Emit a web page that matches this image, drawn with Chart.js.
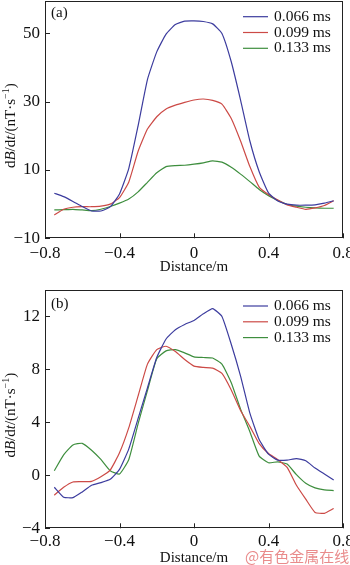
<!DOCTYPE html>
<html>
<head>
<meta charset="utf-8">
<script src="https://cdn.jsdelivr.net/npm/chart.js@4.4.1/dist/chart.umd.min.js"></script>
<style>
    body { margin: 0; background: #fff; }
    #wrap { position: relative; width: 350px; height: 565px; overflow: hidden; }
    canvas { position: absolute; left: 0; }
    #chartA { top: 0; }
    #chartB { top: 282px; }
    #mark {
        position: absolute; left: 245px; top: 547px;
        font: 15px "Noto Sans CJK SC", sans-serif; line-height: 18px;
        color: rgba(225, 100, 100, 0.75); white-space: nowrap;
    }
</style>
</head>
<body>
<div id="wrap">
    <canvas id="chartA" width="350" height="282"></canvas>
    <canvas id="chartB" width="350" height="283"></canvas>
    <div id="mark">@有色金属在线</div>
</div>
<script>
// distance along the profile, m
const distance = [-0.75, -0.7, -0.65, -0.6, -0.55, -0.5, -0.45, -0.4, -0.35, -0.3, -0.25, -0.2, -0.15, -0.1, -0.05,
    0, 0.05, 0.1, 0.15, 0.2, 0.25, 0.3, 0.35, 0.4, 0.45, 0.5, 0.55, 0.6, 0.65, 0.7, 0.75];

const seriesLabels = ["0.066 ms", "0.099 ms", "0.133 ms"];
const seriesColors = ["#3c3c9e", "#cc4a46", "#3e8e3e"];

// panel (a)
const a066 = [3.2, 2.2, 0.8, -0.7, -2.0, -2.0, -0.8, 3.0, 10.5, 23, 36.5, 44.6, 49.8, 52.6, 53.6,
    53.7, 53.5, 52.8, 50, 41.7, 30.5, 18.5, 9.5, 3.3, 0.9, 0.0, -0.3, -0.3, -0.2, 0.3, 1.0];
const a099 = [-3.2, -1.5, -0.9, -0.75, -0.75, -0.6, 0.0, 1.9, 6.5, 15.5, 22, 25.6, 27.9, 29, 29.8,
    30.5, 30.8, 30.4, 29.3, 25.1, 18.5, 11, 5.0, 2.8, 1.2, -0.2, -0.9, -1.5, -1.1, -0.4, 1.0];
const a133 = [-1.7, -1.6, -1.5, -1.7, -1.9, -1.5, -0.7, 0.3, 1.5, 3.6, 6.4, 9.2, 11.0, 11.3, 11.4,
    11.7, 12.1, 12.7, 12.3, 10.8, 8.8, 6.6, 4.3, 2.5, 1.1, -0.1, -0.6, -0.9, -1.1, -1.2, -1.2];

// panel (b)
const b066 = [-0.9, -1.65, -1.68, -1.25, -0.75, -0.55, -0.3, 0.45, 2.0, 4.3, 6.6, 8.9, 10.3, 11.0, 11.4,
    11.7, 12.2, 12.6, 12.0, 9.9, 7.5, 4.7, 2.7, 1.6, 1.15, 1.15, 1.27, 1.1, 0.55, 0.1, -0.35];
const b099 = [-1.5, -0.9, -0.5, -0.48, -0.45, -0.1, 0.4, 1.7, 3.6, 6.0, 8.4, 9.5, 9.75, 9.35, 8.75,
    8.25, 8.15, 8.1, 7.7, 6.45, 4.9, 3.7, 2.4, 1.65, 1.18, 0.6, -0.75, -1.8, -2.8, -2.87, -2.5];
const b133 = [0.35, 1.55, 2.3, 2.42, 1.9, 1.2, 0.35, 0.1, 1.2, 3.9, 6.4, 8.8, 9.4, 9.5, 9.25,
    8.95, 8.9, 8.86, 8.4, 7.0, 5.0, 3.3, 1.45, 0.95, 1.02, 0.85, 0.05, -0.6, -0.95, -1.1, -1.15];

const xTicks = [-0.8, -0.4, 0, 0.4, 0.8];
const yTicksA = [-10, 10, 30, 50];
const yTicksB = [-4, 0, 4, 8, 12];

const serif = "'Liberation Serif', 'DejaVu Serif', serif";
const sign = v => (v < 0 ? "\u2212" : "");
const xLabel = v => (v === 0 ? "0" : sign(v) + Math.abs(v).toFixed(1));
const yLabel = v => sign(v) + Math.abs(v);

function makeDatasets(list) {
    return list.map((vals, i) => ({
        label: seriesLabels[i],
        data: distance.map((d, j) => ({ x: d, y: vals[j] })),
        borderColor: seriesColors[i],
        borderWidth: 1.2,
        pointRadius: 0,
        tension: 0.15,
        fill: false,
    }));
}

// frame, inward ticks, legend, titles
const decor = {
    id: "decor",
    afterDraw(chart, args, o) {
        const { ctx, chartArea: a } = chart;
        const x = chart.scales.x, y = chart.scales.y;
        ctx.save();
        ctx.strokeStyle = "#222";
        ctx.lineWidth = 1;
        ctx.strokeRect(Math.round(a.left) + 0.5, Math.round(a.top) + 0.5,
            Math.round(a.width) - 1, Math.round(a.height) - 1);

        ctx.beginPath();
        x.ticks.forEach(t => {
            const px = Math.round(x.getPixelForValue(t.value)) + 0.5;
            ctx.moveTo(px, a.bottom);
            ctx.lineTo(px, a.bottom - 5);
        });
        y.ticks.forEach(t => {
            const py = Math.round(y.getPixelForValue(t.value)) + 0.5;
            ctx.moveTo(a.left, py);
            ctx.lineTo(a.left + 5, py);
        });
        ctx.stroke();

        ctx.fillStyle = "#111";
        ctx.textBaseline = "middle";
        ctx.font = "15px " + serif;
        ctx.textAlign = "left";
        ctx.fillText(o.panel, a.left + 6, a.top + o.panelDy);

        // legend
        ctx.font = "15.5px " + serif;
        chart.data.datasets.forEach((ds, i) => {
            const ly = o.legendY + i * 15.8;
            ctx.strokeStyle = ds.borderColor;
            ctx.lineWidth = 1.2;
            ctx.beginPath();
            ctx.moveTo(243, ly);
            ctx.lineTo(268, ly);
            ctx.stroke();
            ctx.fillText(ds.label, 274, ly);
        });

        // x title
        ctx.font = "15px " + serif;
        ctx.textAlign = "center";
        ctx.fillText("Distance/m", (a.left + a.right) / 2, o.xTitleY);

        // y title with italic B, t and superscript
        const runs = [
            { t: "d", f: "15px " + serif },
            { t: "B", f: "italic 15px " + serif },
            { t: "/d", f: "15px " + serif },
            { t: "t", f: "italic 15px " + serif },
            { t: "/(nT\u00b7s", f: "15px " + serif },
            { t: "\u22121", f: "10px " + serif, up: -5 },
            { t: ")", f: "15px " + serif },
        ];
        let total = 0;
        runs.forEach(r => { ctx.font = r.f; r.w = ctx.measureText(r.t).width; total += r.w; });
        ctx.translate(11, (a.top + a.bottom) / 2 + o.yTitleDy);
        ctx.rotate(-Math.PI / 2);
        ctx.textAlign = "left";
        let cx = -total / 2;
        runs.forEach(r => {
            ctx.font = r.f;
            ctx.fillText(r.t, cx, r.up || 0);
            cx += r.w;
        });
        ctx.restore();
    },
};

function makeChart(id, datasets, yMin, yMax, yTicks, padTop, xHeight, tickPad, extra) {
    return new Chart(document.getElementById(id).getContext("2d"), {
        type: "line",
        data: { datasets: datasets },
        options: {
            responsive: false,
            animation: false,
            layout: { padding: { top: padTop, right: 7, left: 0, bottom: 0 } },
            plugins: { legend: { display: false }, tooltip: { enabled: false }, decor: extra },
            scales: {
                x: {
                    type: "linear",
                    min: -0.8,
                    max: 0.8,
                    grid: { display: false, drawTicks: false },
                    border: { display: false },
                    afterBuildTicks: s => { s.ticks = xTicks.map(v => ({ value: v })); },
                    afterFit: s => { s.height = xHeight; s.paddingLeft = 0; s.paddingRight = 0; },
                    ticks: {
                        padding: tickPad,
                        maxRotation: 0,
                        color: "#111",
                        font: { family: serif, size: 17 },
                        callback: xLabel,
                    },
                },
                y: {
                    min: yMin,
                    max: yMax,
                    grid: { display: false, drawTicks: false },
                    border: { display: false },
                    afterBuildTicks: s => { s.ticks = yTicks.map(v => ({ value: v })); },
                    afterFit: s => { s.width = 45; s.paddingTop = 0; s.paddingBottom = 0; },
                    ticks: {
                        padding: 5,
                        color: "#111",
                        font: { family: serif, size: 17 },
                        callback: yLabel,
                    },
                },
            },
        },
        plugins: [decor],
    });
}

makeChart("chartA", makeDatasets([a066, a099, a133]), -10, 59.5, yTicksA, 1, 43.7, 5,
    { panel: "(a)", panelDy: 12, legendY: 16.7, xTitleY: 267, yTitleDy: 6 });
makeChart("chartB", makeDatasets([b066, b099, b133]), -4, 14, yTicksB, 8, 36.7, 3,
    { panel: "(b)", panelDy: 14, legendY: 24, xTitleY: 276, yTitleDy: 6 });
</script>
</body>
</html>
